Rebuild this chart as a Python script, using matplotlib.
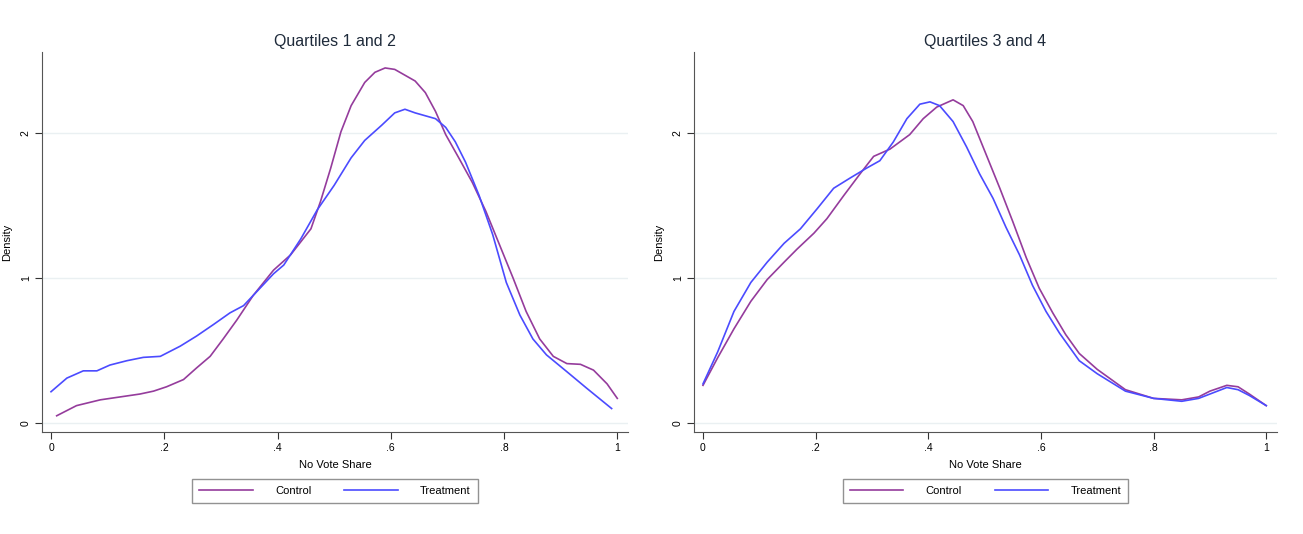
import numpy as np
import matplotlib
matplotlib.use('Agg')
from matplotlib import pyplot as plt

plt.rcParams['font.family'] = ['Liberation Sans', 'DejaVu Sans']

CONTROL_COLOR = '#953c9c'
TREAT_COLOR = '#4b4bff'

# Quartiles 1 and 2 (kernel density)
q12_control_x = [0.01, 0.045, 0.087, 0.122, 0.157, 0.181, 0.204, 0.234, 0.257, 0.281, 0.304,
                 0.328, 0.357, 0.393, 0.423, 0.459, 0.476, 0.494, 0.512, 0.530, 0.554, 0.572,
                 0.590, 0.607, 0.625, 0.643, 0.661, 0.679, 0.697, 0.720, 0.744, 0.768, 0.792,
                 0.816, 0.839, 0.863, 0.887, 0.911, 0.935, 0.958, 0.982, 1.0]
q12_control_y = [0.05, 0.12, 0.16, 0.18, 0.20, 0.22, 0.25, 0.30, 0.38, 0.46, 0.58,
                 0.71, 0.88, 1.055, 1.16, 1.34, 1.53, 1.76, 2.01, 2.19, 2.35, 2.42,
                 2.45, 2.44, 2.40, 2.36, 2.28, 2.15, 1.99, 1.83, 1.66, 1.46, 1.23,
                 1.00, 0.77, 0.58, 0.46, 0.41, 0.405, 0.365, 0.27, 0.17]
q12_treat_x = [0.0, 0.028, 0.057, 0.081, 0.104, 0.134, 0.163, 0.193, 0.228, 0.257, 0.287,
               0.316, 0.340, 0.363, 0.393, 0.411, 0.441, 0.470, 0.500, 0.530, 0.554, 0.584,
               0.607, 0.625, 0.643, 0.661, 0.679, 0.697, 0.714, 0.732, 0.756, 0.780, 0.804,
               0.828, 0.851, 0.875, 0.911, 0.946, 0.99]
q12_treat_y = [0.216, 0.31, 0.36, 0.36, 0.40, 0.43, 0.453, 0.46, 0.53, 0.60, 0.68,
               0.76, 0.81, 0.905, 1.03, 1.09, 1.27, 1.47, 1.64, 1.83, 1.95, 2.055,
               2.14, 2.165, 2.14, 2.12, 2.10, 2.04, 1.94, 1.80, 1.57, 1.30, 0.97,
               0.745, 0.58, 0.47, 0.354, 0.24, 0.10]

# Quartiles 3 and 4
q34_control_x = [0.0, 0.026, 0.055, 0.085, 0.114, 0.144, 0.167, 0.197, 0.220, 0.250, 0.279,
                 0.303, 0.332, 0.367, 0.391, 0.415, 0.444, 0.462, 0.479, 0.503, 0.527, 0.550,
                 0.574, 0.597, 0.621, 0.644, 0.668, 0.7, 0.75, 0.8, 0.85, 0.88, 0.9, 0.93,
                 0.95, 0.97, 1.0]
q34_control_y = [0.26, 0.45, 0.65, 0.84, 0.99, 1.11, 1.20, 1.31, 1.41, 1.57, 1.72,
                 1.84, 1.89, 1.99, 2.10, 2.18, 2.23, 2.19, 2.08, 1.85, 1.62, 1.39,
                 1.14, 0.93, 0.76, 0.61, 0.48, 0.37, 0.23, 0.17, 0.16, 0.18, 0.22, 0.26,
                 0.25, 0.20, 0.12]
q34_treat_x = [0.0, 0.026, 0.055, 0.085, 0.114, 0.144, 0.173, 0.203, 0.232, 0.261, 0.291,
               0.314, 0.338, 0.362, 0.385, 0.403, 0.420, 0.444, 0.468, 0.491, 0.515, 0.538,
               0.562, 0.585, 0.609, 0.633, 0.668, 0.7, 0.75, 0.8, 0.85, 0.88, 0.9, 0.93,
               0.95, 0.97, 1.0]
q34_treat_y = [0.27, 0.49, 0.77, 0.97, 1.11, 1.24, 1.34, 1.48, 1.62, 1.69, 1.76,
               1.81, 1.94, 2.10, 2.20, 2.216, 2.19, 2.08, 1.905, 1.72, 1.55, 1.35,
               1.16, 0.95, 0.77, 0.62, 0.43, 0.34, 0.22, 0.17, 0.15, 0.17, 0.20, 0.245,
               0.23, 0.19, 0.12]

panels = [
    ('Quartiles 1 and 2', q12_control_x, q12_control_y, q12_treat_x, q12_treat_y),
    ('Quartiles 3 and 4', q34_control_x, q34_control_y, q34_treat_x, q34_treat_y),
]

xticks = [0, 0.2, 0.4, 0.6, 0.8, 1.0]
xticklabels = ['0', '.2', '.4', '.6', '.8', '1']
yticks = [0, 1, 2]

fig = plt.figure(figsize=(13.03, 5.34), dpi=100)
positions = [[0.0322, 0.191, 0.4498, 0.7116], [0.5326, 0.191, 0.4474, 0.7116]]

for pos, (title, cx, cy, tx, ty) in zip(positions, panels):
    ax = fig.add_axes(pos)
    ax.plot(cx, cy, color=CONTROL_COLOR, lw=1.2, label='Control', solid_joinstyle='round')
    ax.plot(tx, ty, color=TREAT_COLOR, lw=1.2, label='Treatment', solid_joinstyle='round')
    ax.set_xlim(-0.016, 1.019)
    ax.set_ylim(-0.062, 2.56)
    ax.set_xticks(xticks)
    ax.set_xticklabels(xticklabels)
    ax.set_yticks(yticks)
    ax.set_yticklabels([str(t) for t in yticks], rotation=90, va='center')
    ax.tick_params(labelsize=7.5, length=5, width=0.8, color='#333333', pad=3)
    for t in yticks:
        ax.axhline(t, color='#eaf0f2', lw=1, zorder=0)
    ax.spines['top'].set_visible(False)
    ax.spines['right'].set_visible(False)
    ax.spines['left'].set_color('#555555')
    ax.spines['bottom'].set_color('#555555')
    ax.set_title(title, fontsize=11.5, color='#1e2a3a', pad=4)
    ax.set_xlabel('No Vote Share', fontsize=8, labelpad=5)
    ax.set_ylabel('Density', fontsize=8, labelpad=6)
    leg = ax.legend(loc='upper center', bbox_to_anchor=(0.5, -0.108), ncol=2,
                    fontsize=8, frameon=True, fancybox=False, handlelength=4.8,
                    columnspacing=3.0, handletextpad=2.0, borderpad=0.65)
    leg.get_frame().set_edgecolor('#777777')
    leg.get_frame().set_linewidth(1.0)

fig.savefig('out.png', dpi=100)
